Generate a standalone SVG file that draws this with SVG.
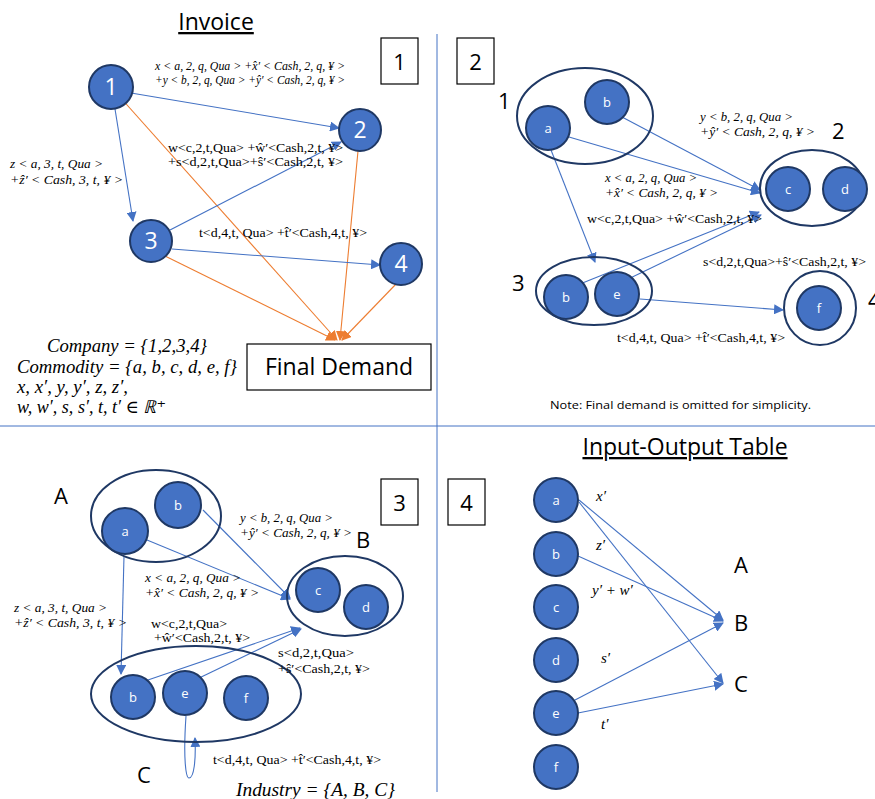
<svg xmlns="http://www.w3.org/2000/svg" width="875" height="799" viewBox="0 0 875 799">
<defs>
<marker id="ab" viewBox="0 0 10 10" refX="9" refY="5" markerWidth="10" markerHeight="10" markerUnits="userSpaceOnUse" orient="auto"><path d="M0,0 L10,5 L0,10 Z" fill="#4472C4"/></marker>
<marker id="ao" viewBox="0 0 10 10" refX="9" refY="5" markerWidth="10" markerHeight="10" markerUnits="userSpaceOnUse" orient="auto"><path d="M0,0 L10,5 L0,10 Z" fill="#ED7D31"/></marker>
</defs>
<style>
.n{fill:#4472C4;stroke:#1F3864;stroke-width:2}
.g{fill:none;stroke:#1F3864;stroke-width:2}
.bl{stroke:#4472C4;stroke-width:1.1;fill:none;marker-end:url(#ab)}
.or{stroke:#ED7D31;stroke-width:1.1;fill:none;marker-end:url(#ao)}
.nt{font-family:"Open Sans","Liberation Sans",sans-serif;fill:#fff;text-anchor:middle}
.big{font-size:23px}
.sm{font-size:13px}
.mi{font-family:"Liberation Serif","DejaVu Serif",serif;font-style:italic;font-size:13px;fill:#000}
.mr{font-family:"Liberation Serif","DejaVu Serif",serif;font-size:13px;fill:#000}
.mq{font-family:"Liberation Serif","DejaVu Serif",serif;font-style:italic;font-size:15px;fill:#000}
.mb{font-family:"Liberation Serif","DejaVu Serif",serif;font-style:italic;font-size:18px;fill:#000}
.lab{font-family:"Open Sans","Liberation Sans",sans-serif;font-size:22px;fill:#000}
.box{fill:#fff;stroke:#000;stroke-width:1.2}
.ttl{font-family:"Open Sans","Liberation Sans",sans-serif;font-size:23px;fill:#000;text-decoration:underline}
</style>
<rect width="875" height="799" fill="#fff"/>
<g id="dividers">
<line x1="437" y1="34" x2="437" y2="792" stroke="#4472C4" stroke-width="1"/>
<line x1="0" y1="426" x2="875" y2="426" stroke="#4472C4" stroke-width="1"/>
</g>
<g id="titles">
<text class="ttl" x="216" y="30" text-anchor="middle">Invoice</text>
<text class="ttl" x="685" y="455" text-anchor="middle">Input-Output Table</text>
</g>
<g id="panel-boxes">
<rect class="box" x="381" y="38" width="37" height="46"/><text class="lab" x="399.5" y="70" text-anchor="middle">1</text>
<rect class="box" x="457" y="38" width="37" height="46"/><text class="lab" x="475.5" y="70" text-anchor="middle">2</text>
<rect class="box" x="381" y="479" width="37" height="46"/><text class="lab" x="399.5" y="511" text-anchor="middle">3</text>
<rect class="box" x="448" y="479" width="37" height="46"/><text class="lab" x="466.5" y="511" text-anchor="middle">4</text>
</g>
<g id="connectors">
<line class="or" x1="111" y1="87" x2="337" y2="340"/>
<line class="or" x1="165" y1="256" x2="335" y2="340"/>
<line class="or" x1="358" y1="151" x2="340" y2="340"/>
<line class="or" x1="397" y1="283" x2="342" y2="340"/>
<line class="bl" x1="131" y1="93" x2="339" y2="128"/>
<line class="bl" x1="115" y1="109" x2="133" y2="221"/>
<line class="bl" x1="170" y1="230" x2="341" y2="142"/>
<line class="bl" x1="172" y1="249" x2="380" y2="265"/>
<line class="bl" x1="622" y1="117" x2="760" y2="190"/>
<line class="bl" x1="569" y1="137" x2="760" y2="193"/>
<line class="bl" x1="551" y1="150" x2="595" y2="262"/>
<line class="bl" x1="580" y1="284" x2="759" y2="212"/>
<line class="bl" x1="622" y1="282" x2="761" y2="215"/>
<line class="bl" x1="640" y1="299" x2="783" y2="310"/>
<line class="bl" x1="203" y1="510" x2="290" y2="598"/>
<line class="bl" x1="147" y1="540" x2="290" y2="599"/>
<line class="bl" x1="124" y1="556" x2="121" y2="674"/>
<line class="bl" x1="145" y1="681" x2="300" y2="628"/>
<line class="bl" x1="195" y1="680" x2="301" y2="629"/>
<path class="bl" d="M186,716 C183,760 186,778 189,778 C194,778 196,760 195,738"/>
<line class="bl" x1="579" y1="500" x2="723" y2="620"/>
<line class="bl" x1="579" y1="502" x2="723" y2="683"/>
<line class="bl" x1="578" y1="556" x2="723" y2="621"/>
<line class="bl" x1="575" y1="700" x2="723" y2="623"/>
<line class="bl" x1="578" y1="713" x2="723" y2="684"/>
</g>
<g id="q1-nodes">
<g id="n1"><circle class="n" cx="111" cy="87" r="22"/><text class="nt big" x="111" y="95">1</text></g>
<g id="n2"><circle class="n" cx="360" cy="130" r="21"/><text class="nt big" x="360" y="138">2</text></g>
<g id="n3"><circle class="n" cx="151" cy="241" r="21"/><text class="nt big" x="151" y="249">3</text></g>
<g id="n4"><circle class="n" cx="401" cy="264" r="21"/><text class="nt big" x="401" y="272">4</text></g>
<g id="final-demand"><rect class="box" x="247" y="344" width="184" height="46"/><text x="339" y="375" text-anchor="middle" font-family="Open Sans, Liberation Sans, sans-serif" font-size="23">Final Demand</text></g>
</g>
<g id="q1-labels">
<text class="mi" x="155" y="70" textLength="190" lengthAdjust="spacingAndGlyphs">x &lt; a, 2, q, Qua &gt;  +x̂′ &lt; Cash, 2, q, ¥ &gt;</text>
<text class="mi" x="155" y="84" textLength="190" lengthAdjust="spacingAndGlyphs">+y &lt; b, 2, q, Qua &gt; +ŷ′ &lt; Cash, 2, q, ¥ &gt;</text>
<text class="mr" x="168" y="152" textLength="175" lengthAdjust="spacingAndGlyphs">w&lt;c,2,t,Qua&gt; +ŵ′&lt;Cash,2,t, ¥&gt;</text>
<text class="mr" x="168" y="166" textLength="175" lengthAdjust="spacingAndGlyphs">+s&lt;d,2,t,Qua&gt;+ŝ′&lt;Cash,2,t, ¥&gt;</text>
<text class="mi" x="10" y="168" textLength="93" lengthAdjust="spacingAndGlyphs">z &lt; a, 3, t, Qua &gt;</text>
<text class="mi" x="10" y="184" textLength="113" lengthAdjust="spacingAndGlyphs">+ẑ′ &lt; Cash, 3, t, ¥ &gt;</text>
<text class="mr" x="199" y="237" textLength="168" lengthAdjust="spacingAndGlyphs">t&lt;d,4,t, Qua&gt; +t̂′&lt;Cash,4,t, ¥&gt;</text>
<text class="mb" x="47" y="352" textLength="160" lengthAdjust="spacingAndGlyphs">Company = {1,2,3,4}</text>
<text class="mb" x="17" y="373" textLength="220" lengthAdjust="spacingAndGlyphs">Commodity = {a, b, c, d, e, f}</text>
<text class="mb" x="17" y="393" textLength="111" lengthAdjust="spacingAndGlyphs">x, x′, y, y′, z, z′,</text>
<text class="mb" x="17" y="413" textLength="149" lengthAdjust="spacingAndGlyphs">w, w′, s, s′, t, t′ ∈ ℝ⁺</text>
</g>
<g id="q2-nodes">
<g id="g2-1"><ellipse class="g" cx="585" cy="116" rx="68" ry="48"/><text class="lab" x="498" y="109">1</text>
<circle class="n" cx="548" cy="128" r="22"/><text class="nt sm" x="548" y="133">a</text>
<circle class="n" cx="607" cy="102" r="22"/><text class="nt sm" x="607" y="107">b</text></g>
<g id="g2-2"><ellipse class="g" cx="812" cy="188" rx="52" ry="38"/><text class="lab" x="832" y="139">2</text>
<circle class="n" cx="788" cy="189" r="22"/><text class="nt sm" x="788" y="194">c</text>
<circle class="n" cx="845" cy="189" r="22"/><text class="nt sm" x="845" y="194">d</text></g>
<g id="g2-3"><ellipse class="g" cx="594" cy="291" rx="58" ry="34"/><text class="lab" x="512" y="291">3</text>
<circle class="n" cx="566" cy="297" r="22"/><text class="nt sm" x="566" y="302">b</text>
<circle class="n" cx="617" cy="294" r="22"/><text class="nt sm" x="617" y="299">e</text></g>
<g id="g2-4"><ellipse class="g" cx="820" cy="308" rx="36" ry="37"/><text class="lab" x="868" y="308">4</text>
<circle class="n" cx="819" cy="308" r="22"/><text class="nt sm" x="819" y="313">f</text></g>
</g>
<g id="q2-labels">
<text class="mi" x="700" y="121" textLength="93" lengthAdjust="spacingAndGlyphs">y &lt; b, 2, q, Qua &gt;</text>
<text class="mi" x="700" y="136" textLength="115" lengthAdjust="spacingAndGlyphs">+ŷ′ &lt; Cash, 2, q, ¥ &gt;</text>
<text class="mi" x="605" y="182" textLength="92" lengthAdjust="spacingAndGlyphs">x &lt; a, 2, q, Qua &gt;</text>
<text class="mi" x="605" y="197" textLength="113" lengthAdjust="spacingAndGlyphs">+x̂′ &lt; Cash, 2, q, ¥ &gt;</text>
<text class="mr" x="587" y="223" textLength="175" lengthAdjust="spacingAndGlyphs">w&lt;c,2,t,Qua&gt; +ŵ′&lt;Cash,2,t, ¥&gt;</text>
<text class="mr" x="703" y="266" textLength="163" lengthAdjust="spacingAndGlyphs">s&lt;d,2,t,Qua&gt;+ŝ′&lt;Cash,2,t, ¥&gt;</text>
<text class="mr" x="617" y="342" textLength="168" lengthAdjust="spacingAndGlyphs">t&lt;d,4,t, Qua&gt; +t̂′&lt;Cash,4,t, ¥&gt;</text>
<text x="550" y="409" font-family="Open Sans, Liberation Sans, sans-serif" font-size="11" textLength="261" lengthAdjust="spacingAndGlyphs">Note: Final demand is omitted for simplicity.</text>
</g>
<g id="q3-nodes">
<g id="gA"><ellipse class="g" cx="156" cy="516" rx="65" ry="46"/><text class="lab" x="54" y="504">A</text>
<circle class="n" cx="125" cy="531" r="23"/><text class="nt sm" x="125" y="536">a</text>
<circle class="n" cx="178" cy="505" r="23"/><text class="nt sm" x="178" y="510">b</text></g>
<g id="gB"><ellipse class="g" cx="345" cy="596" rx="58" ry="40"/><text class="lab" x="356" y="548">B</text>
<circle class="n" cx="318" cy="590" r="22"/><text class="nt sm" x="318" y="595">c</text>
<circle class="n" cx="366" cy="607" r="22"/><text class="nt sm" x="366" y="612">d</text></g>
<g id="gC"><ellipse class="g" cx="196" cy="694" rx="105" ry="48"/><text class="lab" x="137" y="783">C</text>
<circle class="n" cx="133" cy="697" r="22"/><text class="nt sm" x="133" y="702">b</text>
<circle class="n" cx="185" cy="693" r="22"/><text class="nt sm" x="185" y="698">e</text>
<circle class="n" cx="246" cy="698" r="22"/><text class="nt sm" x="246" y="703">f</text></g>
</g>
<g id="q3-labels">
<text class="mi" x="240" y="522" textLength="93" lengthAdjust="spacingAndGlyphs">y &lt; b, 2, q, Qua &gt;</text>
<text class="mi" x="240" y="537" textLength="112" lengthAdjust="spacingAndGlyphs">+ŷ′ &lt; Cash, 2, q, ¥ &gt;</text>
<text class="mi" x="145" y="582" textLength="96" lengthAdjust="spacingAndGlyphs">x &lt; a, 2, q, Qua &gt;</text>
<text class="mi" x="145" y="597" textLength="114" lengthAdjust="spacingAndGlyphs">+x̂′ &lt; Cash, 2, q, ¥ &gt;</text>
<text class="mi" x="14" y="612" textLength="93" lengthAdjust="spacingAndGlyphs">z &lt; a, 3, t, Qua &gt;</text>
<text class="mi" x="14" y="627" textLength="113" lengthAdjust="spacingAndGlyphs">+ẑ′ &lt; Cash, 3, t, ¥ &gt;</text>
<text class="mr" x="151" y="628" textLength="76" lengthAdjust="spacingAndGlyphs">w&lt;c,2,t,Qua&gt;</text>
<text class="mr" x="154" y="642" textLength="96" lengthAdjust="spacingAndGlyphs">+ŵ′&lt;Cash,2,t, ¥&gt;</text>
<text class="mr" x="278" y="657" textLength="76" lengthAdjust="spacingAndGlyphs">s&lt;d,2,t,Qua&gt;</text>
<text class="mr" x="278" y="673" textLength="92" lengthAdjust="spacingAndGlyphs">+ŝ′&lt;Cash,2,t, ¥&gt;</text>
<text class="mr" x="213" y="764" textLength="168" lengthAdjust="spacingAndGlyphs">t&lt;d,4,t, Qua&gt; +t̂′&lt;Cash,4,t, ¥&gt;</text>
<text class="mb" x="236" y="796" textLength="159" lengthAdjust="spacingAndGlyphs">Industry  = {A, B, C}</text>
</g>
<g id="q4-nodes">
<g id="t-a"><circle class="n" cx="556" cy="500" r="22"/><text class="nt sm" x="556" y="505">a</text></g>
<g id="t-b"><circle class="n" cx="556" cy="554" r="22"/><text class="nt sm" x="556" y="559">b</text></g>
<g id="t-c"><circle class="n" cx="556" cy="607" r="22"/><text class="nt sm" x="556" y="612">c</text></g>
<g id="t-d"><circle class="n" cx="556" cy="660" r="22"/><text class="nt sm" x="556" y="665">d</text></g>
<g id="t-e"><circle class="n" cx="556" cy="713" r="22"/><text class="nt sm" x="556" y="718">e</text></g>
<g id="t-f"><circle class="n" cx="556" cy="767" r="22"/><text class="nt sm" x="556" y="772">f</text></g>
<g id="t-A"><text class="lab" x="734" y="573">A</text></g>
<g id="t-B"><text class="lab" x="734" y="631">B</text></g>
<g id="t-C"><text class="lab" x="734" y="692">C</text></g>
</g>
<g id="q4-labels">
<text class="mq" x="596" y="501">x′</text>
<text class="mq" x="596" y="550">z′</text>
<text class="mq" x="592" y="595">y′  + w′</text>
<text class="mq" x="601" y="663">s′</text>
<text class="mq" x="601" y="729">t′</text>
</g>
</svg>
